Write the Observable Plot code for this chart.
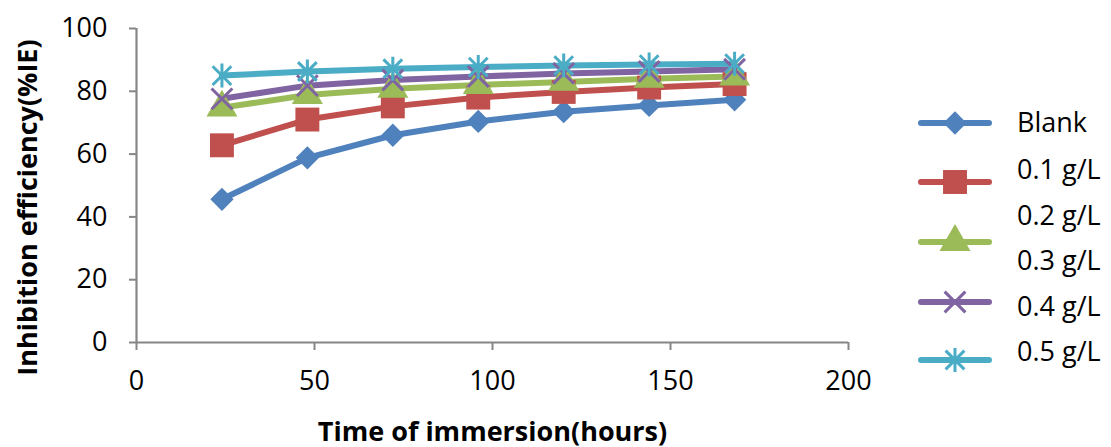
<!DOCTYPE html>
<html>
<head>
<meta charset="utf-8">
<script src="https://cdn.jsdelivr.net/npm/d3@7"></script>
<script src="https://cdn.jsdelivr.net/npm/@observablehq/plot@0.6"></script>
<style>
  body { margin: 0; background: #fff; }
  #chart { position: relative; width: 1111px; height: 447px; font-family: "Open Sans", sans-serif; }
  #legend { position: absolute; left: 0; top: 0; pointer-events: none; }
</style>
</head>
<body>
<div id="chart"></div>
<script>
// Immersion time (hours) at which inhibition efficiency was measured
const hours = [24, 48, 72, 96, 120, 144, 168];

// Inhibition efficiency (%IE) for each series
const blank = [45.6, 58.8, 66.0, 70.4, 73.5, 75.5, 77.3];
const conc01 = [62.8, 71.0, 75.2, 78.0, 79.8, 81.2, 82.3];
const conc03 = [74.8, 78.8, 80.8, 82.0, 83.0, 84.0, 84.7];
const conc04 = [77.6, 81.8, 83.6, 84.7, 85.7, 86.3, 87.0];
const conc05 = [85.0, 86.3, 87.2, 87.7, 88.2, 88.5, 88.8];

const seriesNames = ["Blank", "0.1 g/L", "0.3 g/L", "0.4 g/L", "0.5 g/L"];
const seriesValues = [blank, conc01, conc03, conc04, conc05];
const seriesColors = ["#4F81BD", "#C0504D", "#9BBB59", "#8064A2", "#4BACC6"];
const seriesSymbols = ["diamond2", "square", "triangle", "times", "star"];

// Legend text entries
const legendLabels = ["Blank", "0.1 g/L", "0.2 g/L", "0.3 g/L", "0.4 g/L", "0.5 g/L"];

const xTicks = [0, 50, 100, 150, 200];
const yTicks = [0, 20, 40, 60, 80, 100];

const rows = seriesNames.flatMap((name, k) =>
  hours.map((h, i) => ({ series: name, hours: h, ie: seriesValues[k][i] }))
);

const axisGray = "#868686";
const fontSize = 27;
const symbolSize = { diamond2: 10.5, square: 13.5, triangle: 11.5, times: 9.5, star: 12 };

// Star marker: a vertical stroke crossed by two diagonals
const starSymbol = {
  draw(context, size) {
    const r = Math.sqrt(size / Math.PI);
    const d = r * 0.78;
    context.moveTo(0, -r); context.lineTo(0, r);
    context.moveTo(-d, -d); context.lineTo(d, d);
    context.moveTo(-d, d); context.lineTo(d, -d);
  }
};

const symbolTypes = {
  diamond2: d3.symbolDiamond2, square: d3.symbolSquare, triangle: d3.symbolTriangle,
  times: d3.symbolTimes, star: starSymbol
};
const isOpen = sym => sym === "times" || sym === "star";

const marks = [
  Plot.ruleY([0], { stroke: axisGray, strokeWidth: 2.2 }),
  Plot.ruleX([0], { stroke: axisGray, strokeWidth: 2.2 }),
  Plot.axisX({ ticks: xTicks, tickSize: 8, tickPadding: 20, stroke: axisGray, strokeWidth: 2, fill: "#000", fontSize, label: null }),
  Plot.axisY({ ticks: yTicks, tickSize: 7, tickPadding: 22, stroke: axisGray, strokeWidth: 2, fill: "#000", fontSize, label: null }),
  Plot.line(rows, { x: "hours", y: "ie", z: "series", stroke: "series", strokeWidth: 6, strokeLinejoin: "round", strokeLinecap: "round" })
];

seriesNames.forEach((name, k) => {
  const sym = seriesSymbols[k];
  const data = rows.filter(d => d.series === name);
  const open = isOpen(sym);
  marks.push(Plot.dot(data, {
    x: "hours", y: "ie", symbol: symbolTypes[sym], r: symbolSize[sym],
    fill: open ? "none" : seriesColors[k],
    stroke: open ? seriesColors[k] : "none",
    strokeWidth: open ? 3 : 0
  }));
});

marks.push(
  Plot.text(["Time of immersion(hours)"], { frameAnchor: "bottom", dy: 98, fontSize, fontWeight: "bold", fill: "#000" }),
  Plot.text(["Inhibition efficiency(%IE)"], { frameAnchor: "left", textAnchor: "middle", dx: -108, dy: 22, rotate: -90, fontSize, fontWeight: "bold", fill: "#000" })
);

const chart = Plot.plot({
  width: 1111,
  height: 447,
  marginLeft: 136,
  marginRight: 263,
  marginTop: 28,
  marginBottom: 105,
  style: { fontFamily: "'Open Sans', sans-serif", background: "#fff", color: "#000", overflow: "visible" },
  x: { domain: [0, 200] },
  y: { domain: [0, 100] },
  color: { domain: seriesNames, range: seriesColors },
  marks
});

const container = document.getElementById("chart");
container.appendChild(chart);

// Legend: line swatches with markers, and a separate column of labels
const legend = d3.select(container).append("svg")
  .attr("id", "legend").attr("width", 1111).attr("height", 447);

const swatchY = [123, 182, 242, 302, 360];
const labelY = [123, 170, 216, 261, 307, 352];

seriesNames.forEach((name, k) => {
  const g = legend.append("g").attr("transform", `translate(0,${swatchY[k]})`);
  g.append("line").attr("x1", 921).attr("x2", 989).attr("y1", 0).attr("y2", 0)
    .attr("stroke", seriesColors[k]).attr("stroke-width", 6).attr("stroke-linecap", "round");
  const sym = seriesSymbols[k];
  const open = isOpen(sym);
  const r = symbolSize[sym];
  g.append("path").attr("transform", "translate(955,0)")
    .attr("d", d3.symbol(symbolTypes[sym], Math.PI * r * r)())
    .attr("fill", open ? "none" : seriesColors[k])
    .attr("stroke", open ? seriesColors[k] : "none")
    .attr("stroke-width", open ? 3 : 0);
});

legendLabels.forEach((label, i) => {
  legend.append("text").attr("x", 1017).attr("y", labelY[i]).attr("dy", "0.35em")
    .attr("font-family", "'Open Sans', sans-serif").attr("font-size", fontSize).attr("fill", "#000")
    .text(label);
});
</script>
</body>
</html>
